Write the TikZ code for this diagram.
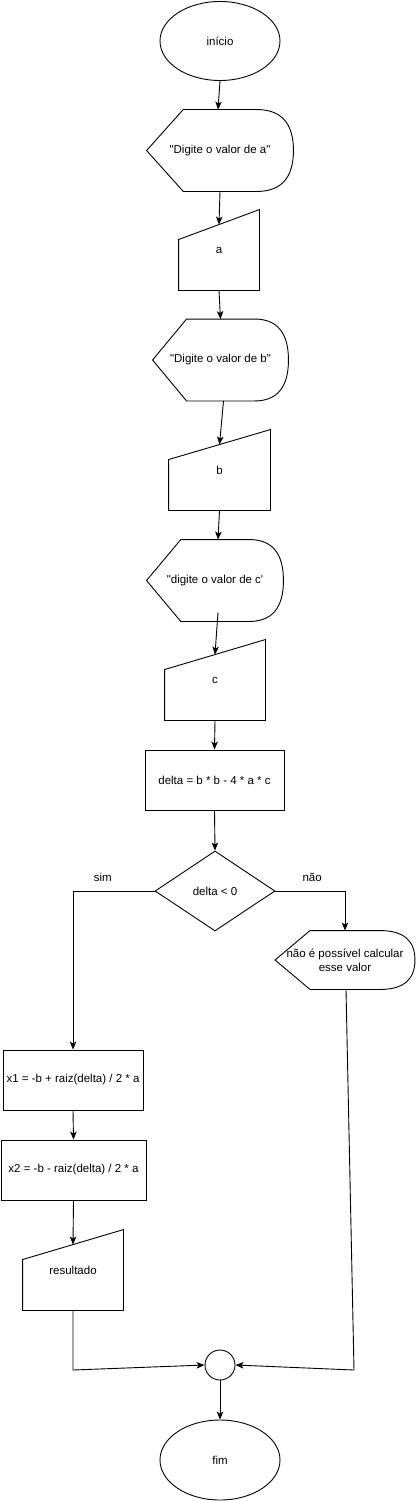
\documentclass[tikz,border=0pt]{standalone}
\usepackage{fontspec}
\newfontfamily\chartfont{Liberation Sans}
\usetikzlibrary{
  arrows.meta,
  positioning,
  calc,
  shapes.geometric
}

% outline of a display block (pointed left, rounded right)
\newcommand{\showshape}[1]{%
  \draw (#1.west) -- ($(#1.north west)!0.25!(#1.north east)$)
    -- ($(#1.north west)!0.75!(#1.north east)$)
    .. controls ($(#1.north west)!0.9167!(#1.north east)$) and ($(#1.east)!0.667!(#1.north east)$) .. (#1.east)
    .. controls ($(#1.east)!0.667!(#1.south east)$) and ($(#1.south west)!0.9167!(#1.south east)$) .. ($(#1.south west)!0.75!(#1.south east)$)
    -- ($(#1.south west)!0.25!(#1.south east)$) -- cycle;}
% outline of a manual input block (slanted top)
\newcommand{\readshape}[1]{%
  \draw ([yshift=-30pt]#1.north west) -- (#1.north east) -- (#1.south east)
    -- (#1.south west) -- cycle;}

\begin{document}
\begin{tikzpicture}[
  x=1pt, y=-1pt,
  line width=0.9pt,
  every node/.style={font=\chartfont\fontsize{11.5}{14}\selectfont, align=center, inner sep=0pt},
  terminal/.style={ellipse, draw, minimum width=120pt, minimum height=79pt},
  process/.style={rectangle, draw, minimum height=60pt},
  decision/.style={diamond, draw, minimum width=120pt, minimum height=80pt},
  showbox/.style={minimum height=81pt},
  readbox/.style={minimum width=100pt, minimum height=80pt},
  joint/.style={circle, draw, minimum size=30pt},
  flow/.style={-{Stealth[length=8pt, width=6.5pt, inset=2pt]}},
  lab/.style={inner sep=0pt}
]
  \useasboundingbox (0,0) rectangle (415,1501);

  % main column
  \node[terminal] (inicio) at (220,41) {início};
  \node[showbox, minimum width=146pt] (msga) at (220,150.5) {"Digite o valor de a"};
  \node[readbox, minimum width=80pt] (lera) at (219,250) {a};
  \node[showbox, minimum width=135pt] (msgb) at (220.5,360) {"Digite o valor de b"};
  \node[readbox, minimum width=101pt] (lerb) at (219.5,470) {b};
  \node[showbox, minimum width=136pt] (msgc) at (215,580.5) {"digite o valor de c'};
  \node[readbox] (lerc) at (215,680) {c};
  \node[process, minimum width=139pt] (delta) at (214.5,780) {delta = b * b - 4 * a * c};
  \node[decision] (teste) at (215,891) {delta < 0};

  % branches
  \node[showbox, minimum width=139pt, minimum height=58pt] (erro) at (345,960) {não é possível calcular\\esse valor};
  \node[process, minimum width=140pt] (raiz1) at (73,1080) {x1 = -b + raiz(delta) / 2 * a};
  \node[process, minimum width=145pt] (raiz2) at (73.5,1170) {x2 = -b - raiz(delta) / 2 * a};
  \node[readbox] (saida) at (73,1270) {resultado};

  \node[joint] (juncao) at (220,1365) {};
  \node[terminal, minimum height=80pt] (fim) at (220,1460) {fim};

  \coordinate (cantoesq) at (73,1370);
  \coordinate (cantodir) at (354,1370);

  % shapes
  \showshape{msga}
  \showshape{msgb}
  \showshape{msgc}
  \showshape{erro}
  \readshape{lera}
  \readshape{lerb}
  \readshape{lerc}
  \readshape{saida}

  % connectors
  \draw[flow] (inicio.south) -- ([xshift=-2pt]msga.north);
  \draw[flow] (msga.south) -- ([yshift=-15pt]lera.north);
  \draw[flow] (lera.south) -- (msgb.north);
  \draw[flow] ([xshift=3pt]msgb.south) -- ([yshift=-15pt]lerb.north);
  \draw[flow] (lerb.south) -- ([xshift=3pt]msgc.north);
  \draw[flow] ([xshift=3pt,yshift=9pt]msgc.south) -- ([yshift=-15pt]lerc.north);
  \draw[flow] (lerc.south) -- (delta.north);
  \draw[flow] (delta.south) -- (teste.north);
  \draw[flow] (teste.west) -| node[lab, pos=0.317, above=9pt] {sim} (raiz1.north);
  \draw[flow] (teste.east) -| node[lab, pos=0.264, above=9pt] {não} (erro.north);
  \draw[flow] (raiz1.south) -- (raiz2.north);
  \draw[flow] (raiz2.south) -- ([yshift=-15pt]saida.north);
  \draw[flow] (saida.south) -- (cantoesq) -- (juncao.west);
  \draw[flow] ([xshift=1pt]erro.south) -- (cantodir) -- (juncao.east);
  \draw[flow] (juncao.south) -- (fim.north);

\end{tikzpicture}
\end{document}
